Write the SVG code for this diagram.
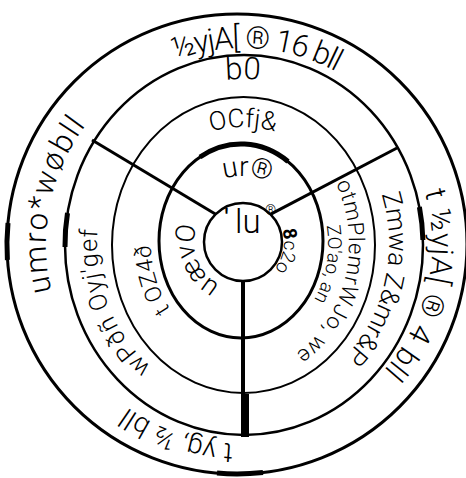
<svg xmlns="http://www.w3.org/2000/svg" width="466" height="478" viewBox="0 0 466 478">
<style>
.ring{fill:none;stroke:#000;}
.thick{fill:none;stroke:#000;stroke-width:5;}
.sp{stroke:#000;fill:none;stroke-linecap:butt;}
.t{font-family:"Roboto","Liberation Sans",sans-serif;font-weight:300;fill:#000;}
</style>
<defs>
<path id="p1" d="M163.3,65 A196,196 0 0 1 363.7,89.6"/>
<path id="p2" d="M420.6,179.4 A189,189 0 0 1 364.5,388.8"/>
<path id="p3" d="M243,444 A200,200 0 0 1 109.2,392.6"/>
<path id="p4" d="M55.6,304.9 A197,197 0 0 1 111.2,97.6"/>
<path id="p5" d="M200.3,84.6 A165,165 0 0 1 285.7,84.6"/>
<path id="p6" d="M165.6,378 A146,158 0 0 1 105.8,190"/>
<path id="p7" d="M378.4,184.8 A146,158 0 0 1 336.8,365"/>
<path id="p8" d="M203,134.1 A117,117 0 0 1 283,134.1"/>
<path id="p9" d="M174.6,314.9 A92,106 0 0 1 152.4,225.6"/>
<path id="p10" d="M329.8,171.7 A106,126 0 0 1 292.8,355.2"/>
<path id="p11" d="M325.5,219.8 A86,100 0 0 1 286,330.6"/>
<path id="p12" d="M209,185.1 A68,68 0 0 1 277,185.1"/>
<path id="p13" d="M225.6,287.1 A48,48 0 0 1 200.4,218"/>
<path id="p14" d="M281.5,227.6 A42,42 0 0 1 263,278.4"/>
</defs>
<rect width="466" height="478" fill="#fff"/>
<g id="rings">
<circle id="ring-outer" class="ring" cx="237" cy="244" r="230" stroke-width="3"/>
<ellipse id="ring-2" class="ring" cx="244" cy="245" rx="179" ry="190" stroke-width="2.5"/>
<ellipse id="ring-3" class="ring" cx="243.5" cy="245" rx="131.5" ry="148" stroke-width="2"/>
<ellipse id="ring-4" class="ring" cx="241" cy="241" rx="82" ry="97" stroke-width="3"/>
<circle id="ring-inner" class="ring" cx="243" cy="242" r="39" stroke-width="2.5"/>
<path class="thick" d="M8,223 A230,230 0 0 0 7.4,260"/>
<path class="thick" d="M263,472.5 A230,230 0 0 1 217,473.1"/>
<path class="thick" d="M67.5,213 A179,190 0 0 0 65,247"/>
<path class="thick" d="M419.4,207 A179,190 0 0 1 422.9,240"/>
<path class="thick" stroke-width="4.5" d="M200,157 A82,97 0 0 1 288,161.5"/>
</g>
<g id="connectors">
<line class="sp" x1="92" y1="140" x2="215.7" y2="214.3" stroke-width="3"/>
<line class="sp" x1="397" y1="148" x2="270.3" y2="214.3" stroke-width="3"/>
<line class="sp" x1="243" y1="281" x2="243" y2="396" stroke-width="4"/>
<line class="sp" x1="245" y1="394" x2="245" y2="437" stroke-width="8"/>
</g>
<g id="labels">
<text class="t" font-size="31" letter-spacing="-1.5"><textPath href="#p1" startOffset="13">½yjA[ ® 16 bll</textPath></text>
<text class="t" font-size="30" letter-spacing="0.8"><textPath href="#p2" startOffset="13">t ½yjA[ ® 4 bll</textPath></text>
<text class="t" font-size="28"><textPath href="#p3" startOffset="10">t yg, ½ bll</textPath></text>
<text class="t" font-size="31" letter-spacing="2"><textPath href="#p4" startOffset="14">umro*wøbll</textPath></text>
<text class="t" font-size="31" text-anchor="middle"><textPath href="#p5" startOffset="50%">b0</textPath></text>
<text class="t" font-size="25" letter-spacing="1"><textPath href="#p6" startOffset="18">wPðñ Oyj'gef</textPath></text>
<text class="t" font-size="26"><textPath href="#p7" startOffset="10">Zmwa Z&amp;mr&amp;P</textPath></text>
<text class="t" font-size="26" text-anchor="middle"><textPath href="#p8" startOffset="50%">OCfj&amp;</textPath></text>
<text class="t" font-size="23"><textPath href="#p9" startOffset="7">t OZ4ð</textPath></text>
<text class="t" font-size="22" letter-spacing="0.8"><textPath href="#p10" startOffset="13">otmPlemrWJo, we</textPath></text>
<text class="t" font-size="19"><textPath href="#p11" startOffset="6">ZO'ao, an</textPath></text>
<text class="t" font-size="28" text-anchor="middle"><textPath href="#p12" startOffset="56%">ur®</textPath></text>
<text class="t" font-size="27"><textPath href="#p13" startOffset="6">uævO</textPath></text>
<text class="t" font-size="19"><textPath href="#p14" startOffset="2"><tspan font-weight="700">8</tspan>c2o</textPath></text>
<text class="t" font-size="33" x="235" y="233">lu</text>
<text font-family="Liberation Sans,sans-serif" font-size="26" x="224" y="226">'</text>
<text class="t" font-size="14" x="265" y="215">®</text>
</g>
</svg>
